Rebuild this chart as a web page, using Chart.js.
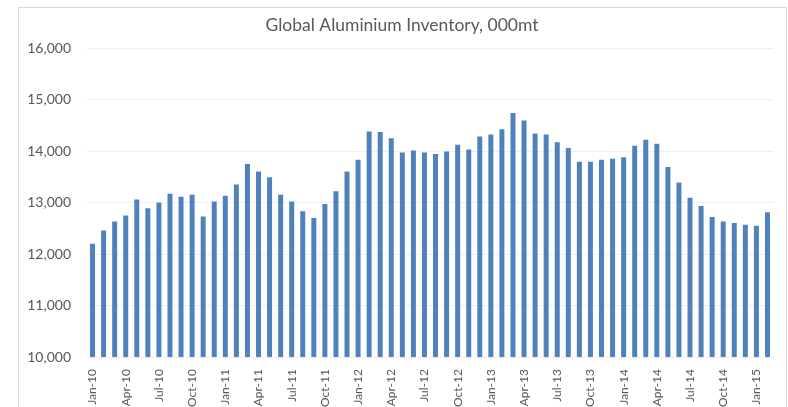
<!DOCTYPE html>
<html>
<head>
<meta charset="utf-8">
<script src="https://cdn.jsdelivr.net/npm/chart.js@4/dist/chart.umd.min.js"></script>
<style>
  html, body { margin: 0; padding: 0; background: #fff; }
  #wrap { position: relative; width: 788px; height: 407px; overflow: hidden; }
  #frame { position: absolute; left: 18px; top: 7px; width: 767px; height: 420px; border: 1px solid #d9d9d9; pointer-events: none; }
  canvas { position: absolute; left: 0; top: 0; }
</style>
</head>
<body>
<div id="wrap">
  <canvas id="chart" width="788" height="407"></canvas>
  <div id="frame"></div>
</div>
<script>
'use strict';

const TITLE = 'Global Aluminium Inventory, 000mt';

const months = [
  'Jan-10', 'Feb-10', 'Mar-10', 'Apr-10', 'May-10', 'Jun-10', 'Jul-10', 'Aug-10', 'Sep-10', 'Oct-10', 'Nov-10', 'Dec-10',
  'Jan-11', 'Feb-11', 'Mar-11', 'Apr-11', 'May-11', 'Jun-11', 'Jul-11', 'Aug-11', 'Sep-11', 'Oct-11', 'Nov-11', 'Dec-11',
  'Jan-12', 'Feb-12', 'Mar-12', 'Apr-12', 'May-12', 'Jun-12', 'Jul-12', 'Aug-12', 'Sep-12', 'Oct-12', 'Nov-12', 'Dec-12',
  'Jan-13', 'Feb-13', 'Mar-13', 'Apr-13', 'May-13', 'Jun-13', 'Jul-13', 'Aug-13', 'Sep-13', 'Oct-13', 'Nov-13', 'Dec-13',
  'Jan-14', 'Feb-14', 'Mar-14', 'Apr-14', 'May-14', 'Jun-14', 'Jul-14', 'Aug-14', 'Sep-14', 'Oct-14', 'Nov-14', 'Dec-14',
  'Jan-15', 'Feb-15'
];

// inventory, thousand tonnes
const inventory = [
  12200, 12455, 12630, 12750, 13060, 12890, 13000, 13170, 13110, 13150, 12730, 13020,
  13130, 13350, 13750, 13600, 13490, 13150, 13020, 12830, 12700, 12970, 13220, 13600,
  13830, 14380, 14370, 14250, 13970, 14010, 13970, 13940, 13990, 14120, 14030, 14280,
  14320, 14420, 14740, 14590, 14340, 14320, 14170, 14060, 13790, 13790, 13830, 13850,
  13880, 14100, 14220, 14140, 13690, 13390, 13090, 12930, 12720, 12630, 12600, 12570,
  12550, 12810
];

const yTicks = [10000, 11000, 12000, 13000, 14000, 15000, 16000];

const TEXT_COLOR = '#595959';
const BAR_COLOR = '#4f81bd';
const FONT = 'Lato, "Open Sans", sans-serif';

// title is centred on the outer frame, not on the canvas, so draw it ourselves
const frameTitle = {
  id: 'frameTitle',
  afterDraw(chart) {
    const ctx = chart.ctx;
    ctx.save();
    ctx.fillStyle = TEXT_COLOR;
    ctx.font = `17.5px ${FONT}`;
    ctx.textAlign = 'center';
    ctx.textBaseline = 'middle';
    ctx.fillText(TITLE, 402, 25);
    ctx.restore();
  }
};

new Chart(document.getElementById('chart'), {
  type: 'bar',
  data: {
    labels: months,
    datasets: [{
      label: 'Inventory',
      data: inventory,
      backgroundColor: BAR_COLOR,
      borderWidth: 0,
      barPercentage: 0.9,
      categoryPercentage: 0.5
    }]
  },
  plugins: [frameTitle],
  options: {
    responsive: false,
    animation: false,
    layout: {
      padding: { left: 0, right: 15, top: 48, bottom: 0 }
    },
    plugins: {
      legend: { display: false },
      tooltip: { enabled: false },
      title: { display: false }
    },
    scales: {
      x: {
        grid: { display: false },
        border: { display: false },
        afterFit(scale) {
          scale.height = 50;
        },
        ticks: {
          autoSkip: false,
          minRotation: 90,
          maxRotation: 90,
          padding: 4,
          color: TEXT_COLOR,
          font: { family: FONT, size: 12 },
          callback(value, index) {
            return index % 3 === 0 ? months[index] : '';
          }
        }
      },
      y: {
        min: yTicks[0],
        max: yTicks[yTicks.length - 1],
        afterFit(scale) {
          scale.width = 87;
        },
        afterBuildTicks(scale) {
          scale.ticks = yTicks.map(v => ({ value: v }));
        },
        grid: { color: '#efefef', lineWidth: 1, drawTicks: false },
        border: { display: false },
        ticks: {
          padding: 16,
          color: TEXT_COLOR,
          font: { family: FONT, size: 14 },
          callback: v => v.toLocaleString('en-US')
        }
      }
    }
  }
});
</script>
</body>
</html>
